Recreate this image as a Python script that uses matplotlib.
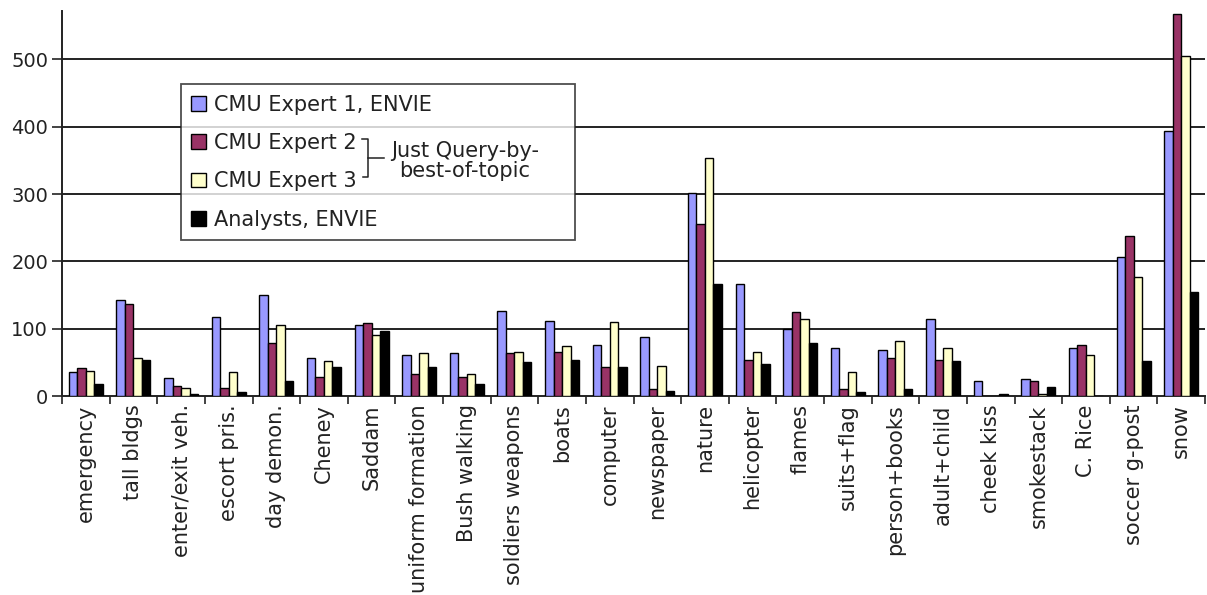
import numpy as np
import matplotlib.pyplot as plt
from matplotlib.patches import Patch

# Topics along the x axis
topics = ['emergency', 'tall bldgs', 'enter/exit veh.', 'escort pris.', 'day demon.',
          'Cheney', 'Saddam', 'uniform formation', 'Bush walking', 'soldiers weapons',
          'boats', 'computer', 'newspaper', 'nature', 'helicopter', 'flames',
          'suits+flag', 'person+books', 'adult+child', 'cheek kiss', 'smokestack',
          'C. Rice', 'soccer g-post', 'snow']

# Scores per topic for each searcher
expert1 = [35, 142, 27, 117, 150, 56, 105, 61, 64, 127, 112, 76, 88, 301, 167, 99,
           71, 69, 115, 23, 25, 71, 207, 393]
expert2 = [42, 137, 15, 12, 79, 28, 108, 32, 28, 64, 66, 43, 11, 256, 54, 125,
           11, 56, 54, 0, 23, 76, 237, 568]
expert3 = [37, 56, 12, 35, 105, 52, 91, 64, 32, 66, 74, 110, 44, 354, 66, 115,
           35, 81, 71, 0, 3, 61, 177, 505]
analysts = [18, 54, 3, 6, 23, 43, 96, 43, 18, 50, 54, 43, 8, 167, 48, 79,
            6, 11, 52, 3, 13, 0, 52, 155]

series = [expert1, expert2, expert3, analysts]
names = ['CMU Expert 1, ENVIE', 'CMU Expert 2', 'CMU Expert 3', 'Analysts, ENVIE']
colors = ['#9999FF', '#993366', '#FFFFCC', '#000000']

plt.rcParams['font.family'] = ['DejaVu Sans']

fig = plt.figure(figsize=(12.07, 5.95), dpi=100)
ax = fig.add_axes([62 / 1207, 199 / 595, 1143 / 1207, 385 / 595])

x = np.arange(len(topics))
bar_width = 0.178
for i, (vals, col) in enumerate(zip(series, colors)):
    ax.bar(x + (i - 1.5) * bar_width, vals, width=bar_width, color=col,
           edgecolor='black', linewidth=1.0, zorder=3)

ax.set_xlim(-0.5, len(topics) - 0.5)
ax.set_ylim(0, 572)
ax.set_yticks([0, 100, 200, 300, 400, 500])
ax.tick_params(axis='y', labelsize=14, length=7, width=1.2, pad=3, colors='#222222')
for v in [100, 200, 300, 400, 500]:
    ax.axhline(v, color='#222222', linewidth=1.4, zorder=1)

# category labels under the bars, tick marks on the group boundaries
ax.set_xticks(x)
ax.set_xticklabels(topics, rotation=90, fontsize=15, color='#222222')
ax.tick_params(axis='x', length=0, pad=6)
ax.set_xticks(np.arange(len(topics) + 1) - 0.5, minor=True)
ax.tick_params(axis='x', which='minor', length=6, width=1.2, colors='#222222')

for s in ['top', 'right']:
    ax.spines[s].set_visible(False)
for s in ['left', 'bottom']:
    ax.spines[s].set_linewidth(1.4)
    ax.spines[s].set_color('#222222')

handles = [Patch(facecolor=c, edgecolor='black', linewidth=1.0) for c in colors]
leg = ax.legend(handles, names, loc='upper left', mode='expand',
                bbox_to_anchor=(0.104, 0.418, 0.345, 0.392), fontsize=15,
                frameon=True, fancybox=False, handlelength=0.7, handleheight=0.7,
                handletextpad=0.4, labelspacing=0.88, borderpad=0.5,
                borderaxespad=0)
leg.get_frame().set_edgecolor('#222222')
leg.get_frame().set_linewidth(1.3)
leg.set_zorder(5)
for t in leg.get_texts():
    t.set_color('#222222')

# bracket joining Expert 2 and Expert 3
bx = [0.2625, 0.2677, 0.2677, 0.2633]
by = [0.6675, 0.6675, 0.5688, 0.5688]
ax.plot(bx, by, color='#222222', lw=1.1, transform=ax.transAxes, clip_on=False, zorder=6)
ax.plot([0.2677, 0.2817], [0.6182, 0.6182], color='#222222', lw=1.1,
        transform=ax.transAxes, clip_on=False, zorder=6)
ax.text(0.3526, 0.6104, 'Just Query-by-\nbest-of-topic', transform=ax.transAxes,
        ha='center', va='center', fontsize=15, color='#222222',
        linespacing=0.95, zorder=6)

fig.savefig('out.png', dpi=100)
